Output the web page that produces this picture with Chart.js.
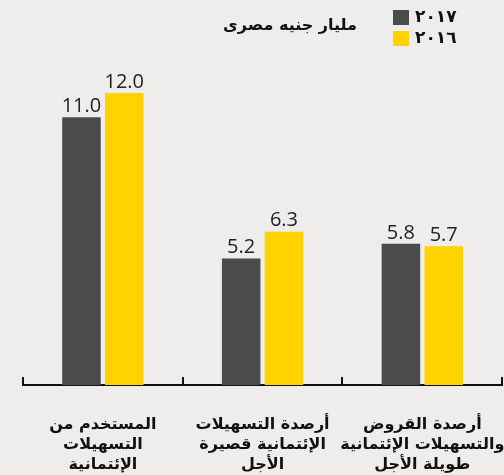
<!DOCTYPE html>
<html>
<head>
<meta charset="utf-8">
<script src="https://cdn.jsdelivr.net/npm/chart.js@4"></script>
<style>
  html, body { margin: 0; padding: 0; background: #eeedeb; overflow: hidden; }
  #wrap { position: relative; width: 504px; height: 475px; overflow: hidden; }
  #box { position: absolute; left: 0; top: 0; width: 530px; height: 475px; }
  .title { position: absolute; right: 147px; top: 15px; direction: rtl;
           font: bold 16px "DejaVu Sans"; color: #111; }
  .leg { position: absolute; left: 393px; font: bold 17px "DejaVu Sans"; color: #111; }
  .leg span { display: inline-block; width: 16px; height: 15px; vertical-align: middle; margin-right: 6px; }
</style>
</head>
<body>
<div id="wrap">
  <div id="box"><canvas id="chart" width="530" height="475"></canvas></div>
  <div class="title" id="title"></div>
  <div id="legend"></div>
</div>
<script>
const categories = [
  ["المستخدم من", "التسهيلات", "الإئتمانية"],
  ["أرصدة التسهيلات", "الإئتمانية قصيرة", "الأجل"],
  ["أرصدة القروض", "والتسهيلات الإئتمانية", "طويلة الأجل"]
];
const seriesNames = ["٢٠١٧", "٢٠١٦"];
const values2017 = [11.0, 5.2, 5.8];
const values2016 = [12.0, 6.3, 5.7];
const unitLabel = "مليار جنيه مصرى";

const colors = ['#4a4b4d', '#ffd200'];

document.getElementById('title').textContent = unitLabel;
const legend = document.getElementById('legend');
seriesNames.forEach((name, i) => {
  const d = document.createElement('div');
  d.className = 'leg';
  d.style.top = (6 + i * 21) + 'px';
  d.innerHTML = `<span style="background:${colors[i]}"></span>${name}`;
  legend.appendChild(d);
});

// value labels over the bars
const valueLabels = {
  id: 'valueLabels',
  afterDatasetsDraw(chart) {
    const ctx = chart.ctx;
    ctx.save();
    ctx.font = '20px "Open Sans"';
    ctx.fillStyle = '#222';
    ctx.textAlign = 'center';
    ctx.textBaseline = 'bottom';
    chart.data.datasets.forEach((ds, i) => {
      chart.getDatasetMeta(i).data.forEach((bar, j) => {
        ctx.fillText(ds.data[j].toFixed(1), bar.x, bar.y - 1);
      });
    });
    ctx.restore();
  }
};

// little upward ticks between the categories
const axisTicks = {
  id: 'axisTicks',
  afterDraw(chart) {
    const x = chart.scales.x, ctx = chart.ctx;
    const step = (x.right - x.left) / categories.length;
    ctx.save();
    ctx.strokeStyle = '#111';
    ctx.lineWidth = 2;
    for (let i = 0; i <= categories.length; i++) {
      const px = Math.round(x.left + i * step);
      ctx.beginPath();
      ctx.moveTo(px, x.top);
      ctx.lineTo(px, x.top - 8);
      ctx.stroke();
    }
    ctx.restore();
  }
};

new Chart(document.getElementById('chart'), {
  type: 'bar',
  data: {
    labels: categories,
    datasets: [
      { label: seriesNames[0], data: values2017, backgroundColor: colors[0] },
      { label: seriesNames[1], data: values2016, backgroundColor: colors[1] }
    ]
  },
  options: {
    responsive: false,
    animation: false,
    categoryPercentage: 0.536,
    barPercentage: 0.9,
    layout: { padding: { left: 23, right: 22, top: 20, bottom: -22 } },
    plugins: { legend: { display: false }, tooltip: { enabled: false } },
    scales: {
      y: { display: false, min: 0, max: 15 },
      x: {
        grid: { display: false },
        border: { color: '#111', width: 2 },
        ticks: {
          color: '#111',
          font: { family: 'DejaVu Sans', size: 16, weight: 'bold', lineHeight: 1.25 },
          padding: 22,
          maxRotation: 0, minRotation: 0, autoSkip: false
        }
      }
    }
  },
  plugins: [valueLabels, axisTicks]
});
</script>
</body>
</html>
